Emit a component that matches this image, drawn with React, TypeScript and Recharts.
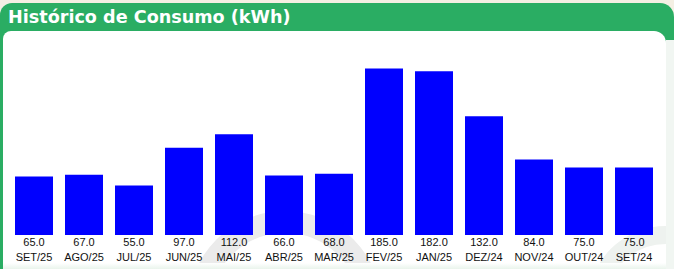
import React from "react";
import { BarChart, Bar, XAxis, YAxis } from "recharts";

const months = [
  "SET/25", "AGO/25", "JUL/25", "JUN/25", "MAI/25", "ABR/25", "MAR/25",
  "FEV/25", "JAN/25", "DEZ/24", "NOV/24", "OUT/24", "SET/24"
];
const consumo = [65, 67, 55, 97, 112, 66, 68, 185, 182, 132, 84, 75, 75];

const data = months.map((m, i) => ({ mes: m, kwh: consumo[i] }));

const MonthTick = (props: any) => {
  const { x, y, index } = props;
  return (
    <g>
      <text x={x} y={y + 11} textAnchor="middle" fontSize={11} fill="#111" fontFamily="Liberation Sans, Arial, sans-serif">
        {consumo[index].toFixed(1)}
      </text>
      <text x={x} y={y + 26} textAnchor="middle" fontSize={11} fill="#111" fontFamily="Liberation Sans, Arial, sans-serif">
        {months[index]}
      </text>
    </g>
  );
};

export default function App() {
  return (
    <div style={{ position: "absolute", left: 0, top: 0, width: 674, height: 269, background: "#f4efe3", overflow: "hidden" }}>
      {/* green header + frame */}
      <div
        style={{
          position: "absolute", left: 0, top: 3, width: 674, height: 266,
          background: "#2aad63", borderTopLeftRadius: 12, borderTopRightRadius: 14
        }}
      />
      <div
        style={{
          position: "absolute", left: 8, top: 4, color: "#fff", fontWeight: "bold",
          fontFamily: "DejaVu Sans, Verdana, sans-serif", fontSize: 17.6, lineHeight: "26px"
        }}
      >
        Histórico de Consumo (kWh)
      </div>
      {/* white panel */}
      <div
        style={{
          position: "absolute", left: 3, top: 31, width: 663, height: 238,
          background: "#fff", borderTopLeftRadius: 8, borderTopRightRadius: 12, overflow: "hidden"
        }}
      >
        <div style={{ position: "absolute", left: 185, top: 180, width: 150, height: 150, borderRadius: "50%", border: "22px solid #ebebeb" }} />
        <div style={{ position: "absolute", left: 585, top: 195, width: 120, height: 120, borderRadius: "50%", border: "18px solid #eef2ef" }} />
        <div style={{ position: "absolute", left: 0, top: 232, width: 663, height: 6, background: "linear-gradient(#ffffff, #eaf4ec)" }} />
      </div>
      <div style={{ position: "absolute", left: 666, top: 40, width: 8, height: 229, background: "#f1f6f2" }} />
      <div style={{ position: "absolute", left: 0, top: 0 }}>
        <BarChart width={674} height={269} data={data} margin={{ top: 55, right: 15, bottom: 0, left: 9 }} barSize={38}>
          <XAxis
            dataKey="mes"
            height={34}
            axisLine={false}
            tickLine={false}
            tickSize={0}
            tickMargin={0}
            interval={0}
            tick={<MonthTick />}
          />
          <YAxis hide domain={[0, 200]} />
          <Bar dataKey="kwh" fill="#0000ff" isAnimationActive={false} />
        </BarChart>
      </div>
    </div>
  );
}
